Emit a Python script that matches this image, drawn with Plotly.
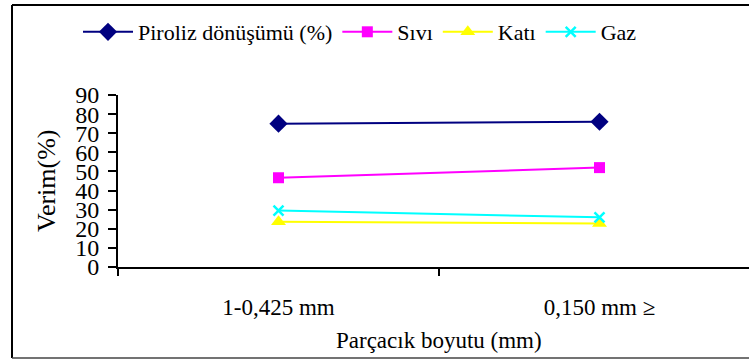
import plotly.graph_objects as go

categories = ["1-0,425 mm", "0,150 mm \u2265"]
piroliz = [75.0, 76.0]
sivi = [46.7, 52.0]
kati = [23.7, 22.7]
gaz = [29.5, 26.0]
yticks = [0, 10, 20, 30, 40, 50, 60, 70, 80, 90]

FONT = "Liberation Serif, Times New Roman, Times, serif"
xpos = list(range(len(categories)))

fig = go.Figure()
fig.add_trace(go.Scatter(x=xpos, y=piroliz, name="Piroliz dönüşümü (%)", mode="lines+markers",
                         line=dict(color="#000080", width=2),
                         marker=dict(symbol="diamond", size=14, color="#000080")))
fig.add_trace(go.Scatter(x=xpos, y=sivi, name="Sıvı", mode="lines+markers",
                         line=dict(color="#FF00FF", width=2),
                         marker=dict(symbol="square", size=11, color="#FF00FF")))
fig.add_trace(go.Scatter(x=xpos, y=kati, name="Katı", mode="lines+markers",
                         line=dict(color="#FFFF00", width=2),
                         marker=dict(symbol="triangle-up", size=13, color="#FFFF00")))
fig.add_trace(go.Scatter(x=xpos, y=gaz, name="Gaz", mode="lines+markers",
                         line=dict(color="#00FFFF", width=2),
                         marker=dict(symbol="x-thin", size=10, line=dict(color="#00FFFF", width=2.5))))

L, T, B = 118, 95, 93
W, H = 749, 360
pw = W - L
unit = 321.0
xr = [-0.5, -0.5 + pw / unit]

def px_x(p):
    return (p - L) / pw

def px_y(p):
    return (H - B - p) / (H - T - B)

fig.update_layout(
    width=W, height=H,
    margin=dict(l=L, r=0, t=T, b=B),
    paper_bgcolor="white", plot_bgcolor="white",
    font=dict(family=FONT, size=22, color="black"),
    showlegend=True,
    legend=dict(orientation="h", x=px_x(78), y=px_y(32), xanchor="left", yanchor="middle",
                font=dict(family=FONT, size=22), bgcolor="rgba(0,0,0,0)", itemwidth=50,
                tracegroupgap=0),
    xaxis=dict(range=xr, tickmode="array", tickvals=xpos, ticktext=categories,
               ticks="", showgrid=False, zeroline=False, showline=True,
               linecolor="black", linewidth=2, ticklabelstandoff=18,
               tickfont=dict(family=FONT, size=23),
               minor=dict(tickmode="array", tickvals=[-0.5, 0.5, 1.5], ticks="outside",
                          ticklen=7, tickwidth=2, tickcolor="black", showgrid=False)),
    yaxis=dict(range=[0, 90], tickmode="array", tickvals=yticks, ticks="outside",
               ticklen=8, tickwidth=2, tickcolor="black", showgrid=False, zeroline=False,
               showline=True, linecolor="black", linewidth=2, ticklabelstandoff=4,
               tickfont=dict(family=FONT, size=24)),
    shapes=[
        dict(type="line", xref="paper", yref="paper", x0=px_x(12), x1=px_x(12),
             y0=px_y(5), y1=px_y(358), line=dict(color="black", width=2)),
        dict(type="line", xref="paper", yref="paper", x0=px_x(12), x1=1.02,
             y0=px_y(5), y1=px_y(5), line=dict(color="black", width=2)),
        dict(type="line", xref="paper", yref="paper", x0=px_x(12), x1=1.02,
             y0=px_y(358), y1=px_y(358), line=dict(color="#444", width=1.5)),
    ],
    annotations=[
        dict(text="Verim(%)", xref="paper", yref="paper", x=px_x(46), y=px_y(181),
             showarrow=False, textangle=-90, font=dict(family=FONT, size=26),
             xanchor="center", yanchor="middle"),
        dict(text="Parçacık boyutu (mm)", xref="paper", yref="paper", x=px_x(439), y=px_y(340),
             showarrow=False, font=dict(family=FONT, size=23), xanchor="center", yanchor="middle"),
    ],
)

fig.write_html("out.html")
